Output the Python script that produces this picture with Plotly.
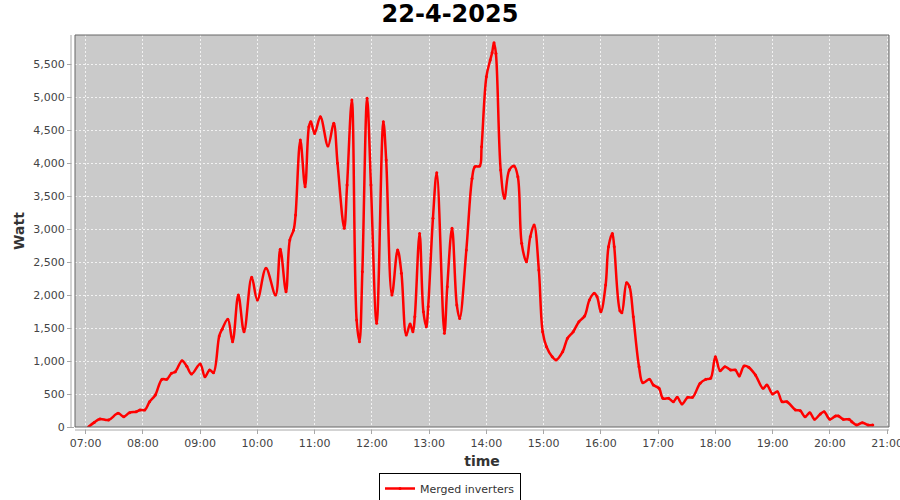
import plotly.graph_objects as go

DAY = "2025-04-22"

times = [
    "07:03", "07:09", "07:15", "07:24", "07:34", "07:40", "07:46", "07:53", "07:57", "08:02",
    "08:07", "08:13", "08:20", "08:25", "08:30", "08:34", "08:41", "08:46", "08:51", "09:00",
    "09:05", "09:10", "09:14", "09:20", "09:23", "09:29", "09:34", "09:40", "09:46", "09:54",
    "10:00", "10:09", "10:19", "10:24", "10:30", "10:34", "10:38", "10:40", "10:45", "10:50",
    "10:54", "10:56", "11:00", "11:06", "11:14", "11:20", "11:24", "11:31", "11:34", "11:39",
    "11:44", "11:47", "11:50", "11:55", "11:59", "12:05", "12:12", "12:15", "12:21", "12:27",
    "12:31", "12:36", "12:40", "12:43", "12:45", "12:50", "12:54", "12:57", "12:59", "13:04",
    "13:08", "13:16", "13:19", "13:24", "13:29", "13:32", "13:39", "13:45", "13:48", "13:53",
    "13:55", "14:00", "14:04", "14:06", "14:08", "14:10", "14:15", "14:19", "14:24", "14:29",
    "14:33", "14:37", "14:42", "14:46", "14:50", "14:55", "14:59", "15:03", "15:09", "15:13",
    "15:20", "15:25", "15:31", "15:37", "15:43", "15:48", "15:53", "15:56", "16:00", "16:05",
    "16:08", "16:12", "16:14", "16:20", "16:22", "16:27", "16:30", "16:34", "16:40", "16:44",
    "16:51", "16:55", "17:01", "17:05", "17:11", "17:16", "17:20", "17:25", "17:31", "17:36",
    "17:44", "17:50", "17:55", "18:00", "18:05", "18:10", "18:16", "18:21", "18:25", "18:30",
    "18:35", "18:42", "18:50", "18:54", "19:00", "19:05", "19:10", "19:15", "19:24", "19:29",
    "19:34", "19:39", "19:44", "19:50", "19:54", "20:00", "20:06", "20:09", "20:14", "20:20",
    "20:23", "20:28", "20:34", "20:40", "20:45",
]

watts = [
    0, 70, 120, 106, 207, 156, 217, 232, 258, 258,
    383, 485, 722, 722, 813, 838, 1005, 920, 803, 955,
    762, 864, 823, 1379, 1480, 1632, 1293, 2000, 1444, 2268,
    1924, 2404, 2000, 2692, 2050, 2833, 2985, 3212, 4348, 3641,
    4550, 4626, 4449, 4700, 4258, 4601, 3995, 3010, 3666, 4954,
    1621, 1293, 2353, 4980, 3666, 1571, 4626, 4045, 2000, 2682,
    2329, 1394, 1560, 1444, 1671, 2934, 1747, 1520, 1823, 3162,
    3853, 1419, 2126, 3010, 1848, 1646, 2682, 3767, 3944, 3954,
    4247, 5307, 5560, 5671, 5822, 5661, 3893, 3465, 3893, 3954,
    3792, 2783, 2504, 2883, 3060, 2379, 1444, 1217, 1065, 1015,
    1141, 1344, 1444, 1596, 1682, 1924, 2025, 1974, 1747, 2150,
    2732, 2934, 2732, 1762, 1732, 2186, 2126, 1671, 914, 671,
    722, 636, 586, 434, 434, 383, 449, 348, 449, 449,
    662, 722, 737, 1065, 853, 914, 864, 864, 773, 924,
    904, 788, 586, 636, 500, 535, 383, 383, 258, 247,
    156, 217, 117, 197, 232, 117, 167, 167, 117, 117,
    81, 30, 65, 30, 30,
]

title_text = "22-4-2025"
series_name = "Merged inverters"
x_title = "time"
y_title = "Watt"

x_vals = [f"{DAY} {t}:00" for t in times]

fig = go.Figure()
fig.add_trace(go.Scatter(
    x=x_vals, y=watts, name=series_name,
    mode="lines+markers",
    line=dict(color="#FF0000", width=2.5, shape="spline", smoothing=1.0),
    marker=dict(color="#FF0000", size=3),
))

FONT = "DejaVu Sans"
AX_GRAY = "#A8A8A8"

W, H = 900, 500
ML, MR, MT, MB = 75, 11, 35, 73
PW, PH = W - ML - MR, H - MT - MB

fig.update_layout(
    width=W, height=H,
    margin=dict(l=ML, r=MR, t=MT, b=MB, autoexpand=False),
    paper_bgcolor="white",
    plot_bgcolor="#CACACA",
    font=dict(family=FONT, size=11, color="#444444"),
    title=dict(text=f"<b>{title_text}</b>", x=0.5, xanchor="center", xref="container",
               y=1 - 14 / H, yanchor="middle", yref="container",
               font=dict(family=FONT, size=24, color="black")),
    showlegend=True,
    legend=dict(orientation="h", x=(450 - ML) / PW, xanchor="center",
                y=-(473 - (MT + PH)) / PH, yanchor="top",
                bgcolor="white", bordercolor="black", borderwidth=1,
                font=dict(family=FONT, size=11, color="#333333"),
                itemwidth=30),
    xaxis=dict(
        type="date", automargin=False,
        range=[f"{DAY} 06:48:50", f"{DAY} 21:02:00"],
        dtick=3600000, tick0=f"{DAY} 07:00:00", tickformat="%H:%M",
        ticklabeloverflow="allow",
        showgrid=True, gridcolor="#F2F2F2", griddash="2px,2px", gridwidth=1,
        ticks="outside", ticklen=6, tickcolor=AX_GRAY, tickwidth=1,
        showline=False, zeroline=False,
        title=dict(text=f"<b>{x_title}</b>", font=dict(family=FONT, size=14, color="#333333"),
                   standoff=6),
        tickfont=dict(family=FONT, size=11, color="#444444"),
    ),
    yaxis=dict(
        automargin=False,
        range=[0, 5940], dtick=500, tick0=0, tickformat=",d",
        ticklabeloverflow="allow",
        showgrid=True, gridcolor="#F2F2F2", griddash="2px,2px", gridwidth=1,
        ticks="outside", ticklen=7, tickcolor=AX_GRAY, tickwidth=1,
        showline=False, zeroline=False,
        title=dict(text=f"<b>{y_title}</b>", font=dict(family=FONT, size=14, color="#333333"),
                   standoff=5),
        tickfont=dict(family=FONT, size=11, color="#444444"),
    ),
    shapes=[
        dict(type="rect", xref="paper", yref="paper", xsizemode="pixel", xanchor=0,
             x0=-3.5, x1=-0.5, y0=0, y1=1, fillcolor="white", line=dict(width=0), layer="above"),
        dict(type="rect", xref="paper", yref="paper", ysizemode="pixel", yanchor=0,
             x0=0, x1=1, y0=-2.5, y1=-0.5, fillcolor="white", line=dict(width=0), layer="above"),
        dict(type="line", xref="paper", yref="paper", xsizemode="pixel", xanchor=0,
             x0=-4, x1=-4, y0=0, y1=1, line=dict(color=AX_GRAY, width=1), layer="above"),
        dict(type="line", xref="paper", yref="paper", ysizemode="pixel", yanchor=0,
             x0=0, x1=1, y0=-3, y1=-3, line=dict(color=AX_GRAY, width=1), layer="above"),
        dict(type="rect", xref="paper", yref="paper", x0=0, x1=1, y0=0, y1=1,
             line=dict(color="#666666", width=1), fillcolor="rgba(0,0,0,0)", layer="above"),
    ],
)

# remove the default 8px page margin so the figure fills the 900x500 window
fig.write_html("out.html", config={"displayModeBar": False},
               post_script="document.body.style.margin='0';")
